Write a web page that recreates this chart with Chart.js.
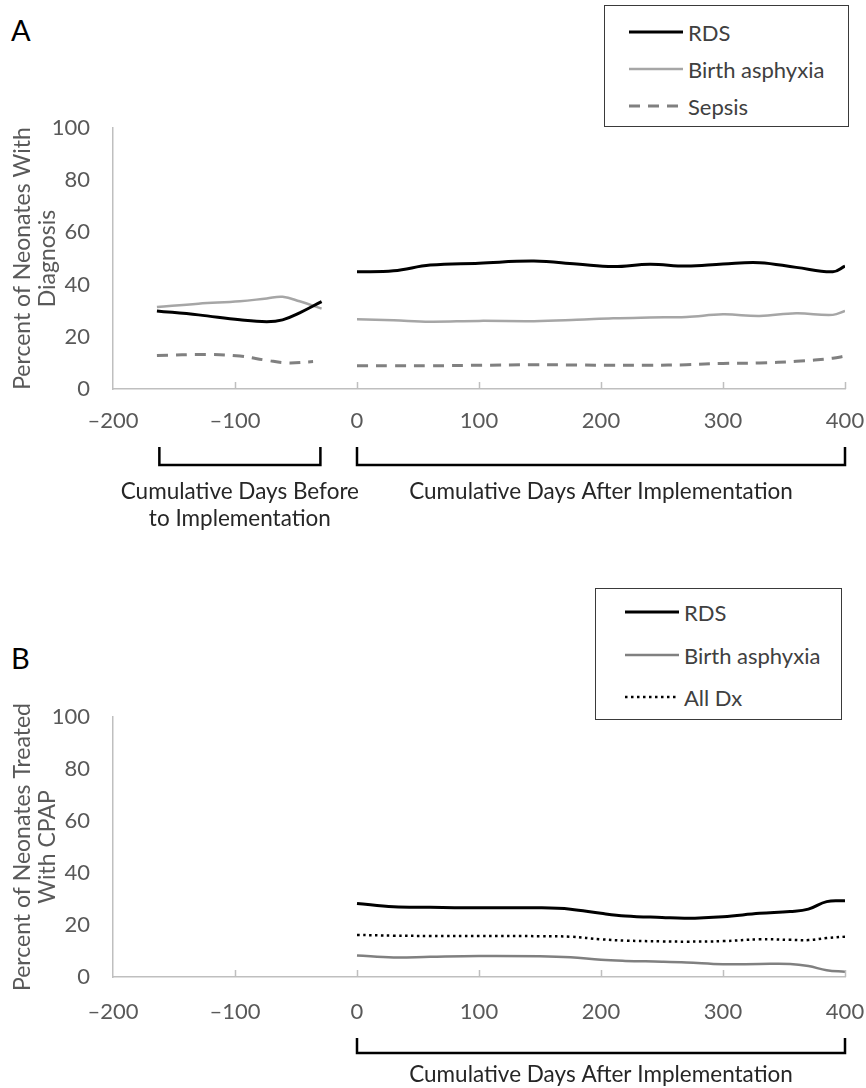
<!DOCTYPE html>
<html>
<head>
<meta charset="utf-8">
<script src="https://cdn.jsdelivr.net/npm/chart.js@4.4.1/dist/chart.umd.min.js"></script>
<style>
    body { margin: 0; background: #fff; font-family: Lato, sans-serif; }
    #page { position: relative; width: 866px; height: 1088px; overflow: hidden; }
    canvas { position: absolute; left: 0; }
    .panel { position: absolute; left: 11px; font-size: 29px; color: #000; line-height: 1; }
    .legend { position: absolute; border: 1.5px solid #3a3a3a; box-sizing: border-box; background: #fff; }
    .legend .row { position: absolute; left: 0; height: 28px; display: flex; align-items: center;
                   font-size: 22px; color: #404040; white-space: nowrap; }
    .legend svg { display: block; }
</style>
</head>
<body>
<div id="page">
    <div class="panel" style="top:15px">A</div>
    <div class="panel" style="top:643px">B</div>
    <canvas id="chartA" width="866" height="440" style="top:100px"></canvas>
    <canvas id="chartB" width="866" height="398" style="top:690px"></canvas>
    <div class="legend" id="legendA" style="left:604px; top:5px; width:245px; height:122px"></div>
    <div class="legend" id="legendB" style="left:595px; top:588px; width:247px; height:132px"></div>
</div>

<script>
// axis ticks
const xTicks = [-200, -100, 0, 100, 200, 300, 400];
const yTicks = [0, 20, 40, 60, 80, 100];

// Panel A - before implementation
const daysPreA = [-164, -130, -96, -74, -61, -47, -29];
const rdsPreA = [29.9, 28.4, 26.5, 25.8, 26.5, 29.2, 33.5];
const asphyxiaPreA = [31.4, 32.7, 33.6, 34.7, 35.3, 33.6, 30.8];
const daysSepsisPreA = [-164, -123, -96, -74, -57, -36];
const sepsisPreA = [12.8, 13.2, 12.6, 11.0, 10.0, 10.5];

// Panel A - after implementation
const daysPostA = [0, 30, 60, 100, 145, 180, 210, 240, 270, 300, 330, 360, 390, 400];
const rdsPostA = [44.9, 45.3, 47.5, 48.2, 49.0, 47.9, 46.9, 47.8, 47.1, 47.9, 48.4, 46.6, 44.9, 47.1];
const asphyxiaPostA = [26.7, 26.3, 25.8, 26.1, 26.0, 26.5, 27.1, 27.4, 27.6, 28.6, 28.0, 29.0, 28.4, 29.9];
const sepsisPostA = [8.9, 8.9, 8.9, 9.1, 9.3, 9.2, 9.1, 9.1, 9.3, 9.8, 10.0, 10.6, 11.8, 12.6];

// Panel B - after implementation
const daysB = [0, 30, 60, 100, 150, 175, 200, 220, 250, 270, 300, 330, 355, 370, 385, 400];
const rdsB = [28.3, 27.0, 26.8, 26.6, 26.6, 26.1, 24.5, 23.5, 22.9, 22.6, 23.2, 24.5, 25.2, 26.1, 29.0, 29.3];
const asphyxiaB = [8.3, 7.5, 7.8, 8.1, 8.0, 7.6, 6.6, 6.2, 5.9, 5.6, 4.9, 5.0, 5.0, 4.2, 2.6, 2.0];
const allDxB = [16.2, 15.9, 15.8, 15.8, 15.7, 15.5, 14.5, 14.0, 13.7, 13.6, 13.8, 14.5, 14.3, 14.2, 15.0, 15.5];

const legendLabelsA = ['RDS', 'Birth asphyxia', 'Sepsis'];
const legendLabelsB = ['RDS', 'Birth asphyxia', 'All Dx'];
const yTitleA = ['Percent of Neonates With', 'Diagnosis'];
const yTitleB = ['Percent of Neonates Treated', 'With CPAP'];
const bracketsA = [
    { from: -162, to: -30, text: ['Cumulative Days Before', 'to Implementation'] },
    { from: 0, to: 400, text: ['Cumulative Days After Implementation'] }
];
const bracketsB = [
    { from: 0, to: 400, text: ['Cumulative Days After Implementation'] }
];

// line styles
const styles = {
    rds: { color: '#000000', width: 3, dash: [] },
    asphyxiaA: { color: '#a6a6a6', width: 2.5, dash: [] },
    asphyxiaB: { color: '#808080', width: 2.5, dash: [] },
    sepsis: { color: '#808080', width: 3, dash: [11, 8] },
    allDx: { color: '#000000', width: 2.5, dash: [2.5, 3.5] }
};

Chart.defaults.font.family = 'Lato, sans-serif';
Chart.defaults.color = '#595959';

function toPoints(days, values) {
    return days.map((d, i) => ({ x: d, y: values[i] }));
}

function lineSet(days, values, style) {
    return {
        data: toPoints(days, values),
        borderColor: style.color,
        borderWidth: style.width,
        borderDash: style.dash,
        pointRadius: 0,
        tension: 0.4,
        fill: false
    };
}

function dashLabel(v) {
    return v < 0 ? '\u2013' + Math.abs(v) : String(v);
}

// small tick marks above the x axis, and the brackets with their captions
const decor = {
    id: 'decor',
    afterDraw(chart, args, opts) {
        const ctx = chart.ctx;
        const xs = chart.scales.x;
        const base = chart.scales.y.getPixelForValue(0);
        ctx.save();
        ctx.strokeStyle = '#bfbfbf';
        ctx.lineWidth = 1.5;
        xTicks.forEach(t => {
            if (t === xs.min) return;
            const px = Math.round(xs.getPixelForValue(t)) + 0.5;
            ctx.beginPath();
            ctx.moveTo(px, base);
            ctx.lineTo(px, base - 7);
            ctx.stroke();
        });

        ctx.strokeStyle = '#000';
        ctx.lineWidth = 2.5;
        ctx.fillStyle = '#262626';
        ctx.font = '22.5px Lato, sans-serif';
        ctx.textAlign = 'center';
        ctx.textBaseline = 'middle';
        opts.brackets.forEach(b => {
            const x1 = xs.getPixelForValue(b.from);
            const x2 = xs.getPixelForValue(b.to);
            ctx.beginPath();
            ctx.moveTo(x1, base + opts.top);
            ctx.lineTo(x1, base + opts.bottom);
            ctx.lineTo(x2, base + opts.bottom);
            ctx.lineTo(x2, base + opts.top);
            ctx.stroke();
            b.text.forEach((line, i) => {
                ctx.fillText(line, (x1 + x2) / 2, base + opts.text + i * 27);
            });
        });
        ctx.restore();
    }
};

function makeChart(id, datasets, yTitle, tickPad, axisHeight, padTop, decorOpts) {
    return new Chart(document.getElementById(id), {
        type: 'line',
        data: { datasets: datasets },
        plugins: [decor],
        options: {
            responsive: false,
            animation: false,
            devicePixelRatio: 1,
            layout: { padding: { top: padTop, right: 21, left: 0, bottom: 0 } },
            scales: {
                x: {
                    type: 'linear',
                    min: xTicks[0],
                    max: xTicks[xTicks.length - 1],
                    afterBuildTicks: s => { s.ticks = xTicks.map(v => ({ value: v })); },
                    afterFit: s => {
                        s.height = axisHeight;
                        s.paddingLeft = 0;
                        s.paddingRight = 0;
                    },
                    grid: { drawOnChartArea: false, drawTicks: false },
                    border: { color: '#bfbfbf', width: 1.5 },
                    ticks: {
                        padding: tickPad,
                        maxRotation: 0,
                        font: { size: 22 },
                        color: '#595959',
                        callback: v => dashLabel(v)
                    }
                },
                y: {
                    min: yTicks[0],
                    max: yTicks[yTicks.length - 1],
                    afterBuildTicks: s => { s.ticks = yTicks.map(v => ({ value: v })); },
                    afterFit: s => {
                        s.width = 113;
                        s.paddingTop = 0;
                        s.paddingBottom = 0;
                    },
                    grid: { drawOnChartArea: false, drawTicks: false },
                    border: { color: '#bfbfbf', width: 1.5 },
                    ticks: { padding: 23, font: { size: 22 }, color: '#595959' },
                    title: {
                        display: true,
                        text: yTitle,
                        color: '#595959',
                        font: { size: 23, lineHeight: 1.1 },
                        padding: { top: 10, bottom: 0 }
                    }
                }
            },
            plugins: {
                legend: { display: false },
                tooltip: { enabled: false },
                decor: decorOpts
            }
        }
    });
}

makeChart('chartA', [
    lineSet(daysPreA, rdsPreA, styles.rds),
    lineSet(daysPreA, asphyxiaPreA, styles.asphyxiaA),
    lineSet(daysSepsisPreA, sepsisPreA, styles.sepsis),
    lineSet(daysPostA, rdsPostA, styles.rds),
    lineSet(daysPostA, asphyxiaPostA, styles.asphyxiaA),
    lineSet(daysPostA, sepsisPostA, styles.sepsis)
], yTitleA, 19, 151, 28, { brackets: bracketsA, top: 58, bottom: 76, text: 103 });

makeChart('chartB', [
    lineSet(daysB, rdsB, styles.rds),
    lineSet(daysB, asphyxiaB, styles.asphyxiaB),
    lineSet(daysB, allDxB, styles.allDx)
], yTitleB, 22, 111, 27, { brackets: bracketsB, top: 61, bottom: 76, text: 98 });

// boxed legends
function buildLegend(id, labels, lineStyles, rowTops, sampleLeft) {
    const box = document.getElementById(id);
    labels.forEach((label, i) => {
        const st = lineStyles[i];
        const row = document.createElement('div');
        row.className = 'row';
        row.style.top = (rowTops[i] - 14) + 'px';
        row.style.left = sampleLeft + 'px';
        row.innerHTML = `
            <svg width="56" height="6"><line x1="0" y1="3" x2="54" y2="3"
                stroke="${st.color}" stroke-width="${st.width}"
                stroke-dasharray="${st.dash.length ? st.dash.join(' ') : 'none'}"/></svg>
            <span style="margin-left:3px">${label}</span>`;
        box.appendChild(row);
    });
}

buildLegend('legendA', legendLabelsA, [styles.rds, styles.asphyxiaA, styles.sepsis], [26, 63, 100], 24);
buildLegend('legendB', legendLabelsB, [styles.rds, styles.asphyxiaB, styles.allDx], [23, 66, 108], 29);
</script>
</body>
</html>
